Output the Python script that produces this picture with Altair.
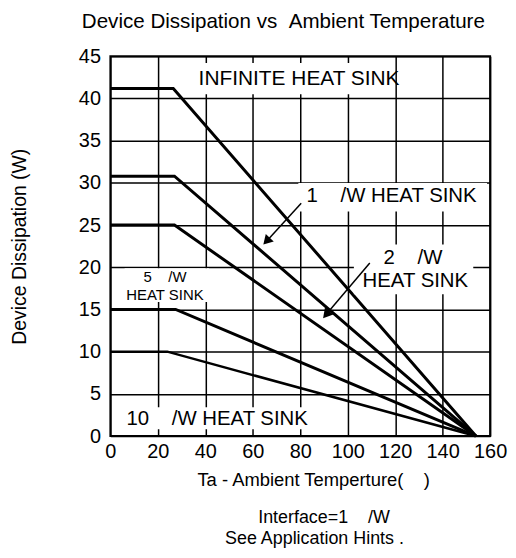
import altair as alt
import pandas as pd

NB = "\u00a0"

# ---- data ----
series = ["Infinite heat sink", "1 C/W heat sink", "2 C/W heat sink", "5 C/W heat sink", "10 C/W heat sink"]
flat_level = [41.2, 30.8, 25.0, 15.0, 10.0]
knee_temp = [26.5, 27.0, 27.0, 27.5, 24.0]
zero_temp = [154, 154, 154, 154, 154]
line_width = [3.0, 3.0, 3.0, 3.0, 2.5]

x_ticks = [0, 20, 40, 60, 80, 100, 120, 140, 160]
y_ticks = [0, 5, 10, 15, 20, 25, 30, 35, 40, 45]

# annotation boxes (white backgrounds), data coords
box_x = [34.5, 79.2, 102.6, 6.0, 1.0]
box_x2 = [119.3, 158.7, 152.9, 41.5, 83.0]
box_y = [40.5, 26.6, 16.8, 15.9, 0.8]
box_y2 = [44.2, 30.0, 22.7, 19.9, 3.4]

label_text = ["INFINITE HEAT SINK", "1" + NB * 4 + "/W HEAT SINK", "2" + NB * 4 + "/W", "HEAT SINK",
              "5" + NB * 4 + "/W", "HEAT SINK", "10" + NB * 4 + "/W HEAT SINK"]
label_x = [79.5, 118.5, 127.5, 128.5, 23.0, 23.0, 45.0]
label_y = [42.3, 28.4, 21.1, 18.4, 18.9, 16.7, 2.0]
label_size = [21, 20.5, 20.5, 20.5, 15, 15, 20.5]

# footnote lines below the x axis title
note_text = ["Interface=1" + NB * 4 + "/W", "See Application Hints ."]
note_x = [90.0, 86.0]
note_y = [-9.7, -12.2]

arrow_x = [80.4, 109.3]
arrow_y = [27.6, 20.5]
arrow_x2 = [65.8, 90.9]
arrow_y2 = [23.1, 14.4]
arrow_angle = [223, 220]

# ---- tables ----
rows = []
for s, lvl, k, z, w in zip(series, flat_level, knee_temp, zero_temp, line_width):
    rows.append({"series": s, "ta": 0, "pd": lvl, "o": 0, "w": w})
    rows.append({"series": s, "ta": k, "pd": lvl, "o": 1, "w": w})
    rows.append({"series": s, "ta": z, "pd": 0, "o": 2, "w": w})
lines_df = pd.DataFrame(rows)
boxes_df = pd.DataFrame({"x": box_x, "x2": box_x2, "y": box_y, "y2": box_y2})
labels_df = pd.DataFrame({"t": label_text, "x": label_x, "y": label_y, "fs": label_size})
notes_df = pd.DataFrame({"t": note_text, "x": note_x, "y": note_y})
arrows_df = pd.DataFrame({"x": arrow_x, "y": arrow_y, "x2": arrow_x2, "y2": arrow_y2, "a": arrow_angle})

xs = alt.Scale(domain=[0, 160], nice=False, zero=False)
ys = alt.Scale(domain=[0, 45], nice=False, zero=False)

base_lines = alt.Chart(lines_df).mark_line(color="black", strokeCap="butt").encode(
    x=alt.X("ta:Q", scale=xs,
            axis=alt.Axis(values=x_ticks, title="Ta - Ambient Temperture(" + NB * 4 + ")", grid=True,
                          ticks=False, domain=False,
                          labelFontSize=20, labelPadding=6, titleFontSize=18.5, titleFontWeight="normal",
                          titlePadding=9, labelFlush=False, titleX=204)),
    y=alt.Y("pd:Q", scale=ys,
            axis=alt.Axis(values=y_ticks, title="Device Dissipation (W)", grid=True, ticks=False,
                          domain=False, labelFontSize=20, labelPadding=10, titleFontSize=19.5,
                          titleFontWeight="normal", titlePadding=49)),
    detail="series:N",
    order="o:Q",
    size=alt.Size("w:Q", scale=None, legend=None),
)

boxes = alt.Chart(boxes_df).mark_rect(color="white").encode(
    x=alt.X("x:Q", scale=xs), x2="x2:Q", y=alt.Y("y:Q", scale=ys), y2="y2:Q"
)

labels = alt.Chart(labels_df).mark_text(color="black", align="center", baseline="middle").encode(
    x=alt.X("x:Q", scale=xs), y=alt.Y("y:Q", scale=ys), text="t:N",
    size=alt.Size("fs:Q", scale=None, legend=None)
)

notes = alt.Chart(notes_df).mark_text(color="black", align="center", baseline="middle",
                                      fontSize=18).encode(
    x=alt.X("x:Q", scale=xs), y=alt.Y("y:Q", scale=ys), text="t:N"
)

arrow_lines = alt.Chart(arrows_df).mark_rule(color="black", strokeWidth=1.5).encode(
    x=alt.X("x:Q", scale=xs), y=alt.Y("y:Q", scale=ys), x2="x2:Q", y2="y2:Q"
)

arrow_heads = alt.Chart(arrows_df).mark_point(shape="triangle-up", filled=True, color="black",
                                               size=120, opacity=1).encode(
    x=alt.X("x2:Q", scale=xs), y=alt.Y("y2:Q", scale=ys), angle=alt.Angle("a:Q", scale=None)
)

chart = alt.layer(base_lines, boxes, labels, notes, arrow_lines, arrow_heads).properties(
    width=382, height=382,
    title=alt.TitleParams("Device Dissipation vs" + NB * 2 + "Ambient Temperature", fontSize=20.7,
                          fontWeight="normal", anchor="middle", dx=-17, offset=14),
    autosize=alt.AutoSizeParams(type="none"),
    padding={"left": 103, "top": 47, "right": 18, "bottom": 113},
).configure(font="Liberation Sans").configure_axis(
    gridColor="black", gridOpacity=1, gridWidth=1.5, labelColor="black", titleColor="black"
).configure_view(stroke="black", strokeWidth=2)

chart.save("out.html", embed_options={"renderer": "svg", "actions": False})
